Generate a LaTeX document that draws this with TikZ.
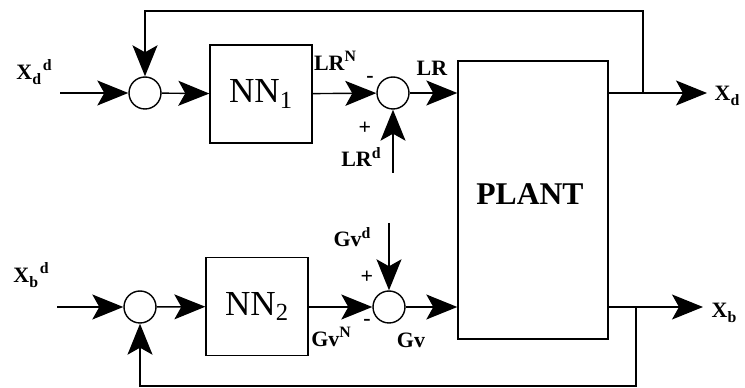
\documentclass[tikz,border=0pt]{standalone}
\usepackage{fontspec}
\setmainfont{Liberation Serif}
\usetikzlibrary{arrows.meta,positioning}

\newcommand{\lo}[1]{\raisebox{-0.5ex}{\fontsize{9}{10}\selectfont #1}}
\newcommand{\hi}[1]{\raisebox{0.85ex}{\fontsize{9}{10}\selectfont #1}}

\tikzset{
  sumnode/.style={draw,circle,minimum size=0.64cm,inner sep=0pt},
  block/.style={draw,minimum width=2.04cm,minimum height=1.96cm,
    font=\fontsize{20}{22}\selectfont},
  sig/.style={-{Stealth[length=0.62cm,width=0.5cm,inset=0.14cm]}},
  lbl/.style={font=\bfseries\fontsize{12.5}{14}\selectfont,inner sep=0pt},
}

\begin{document}
\begin{tikzpicture}[x=0.02cm,y=-0.02cm,line width=0.8pt]
\useasboundingbox (0,0) rectangle (745,388);
% top loop
\coordinate (xdin) at (60,93);
\node[sumnode] (s1) at (145,93) {};
\node[block] (nn1) at (261,94) {NN\textsubscript{1}};
\node[sumnode] (s2) at (393,93) {};
\coordinate (lrdin) at (393,173);
% plant
\node[draw,minimum width=3cm,minimum height=5.56cm] (plant) at (533,200) {};
\node[font=\bfseries\fontsize{18}{20}\selectfont] (plantname) at (530,194) {PLANT};
\coordinate (brd) at (643,93);
\coordinate (topfb) at (643,11);
\coordinate (xdout) at (707,93);
% bottom loop
\coordinate (xbin) at (57,307);
\node[sumnode] (s3) at (140,307) {};
\node[block] (nn2) at (257,306.5) {NN\textsubscript{2}};
\node[sumnode] (s4) at (389,307) {};
\coordinate (gvdin) at (389,223);
\coordinate (brb) at (636,307);
\coordinate (botfb) at (636,386);
\coordinate (xbout) at (703,307);

\draw[sig] (xdin) -- (s1);
\draw[sig] (s1) -- (nn1);
\draw[sig] (nn1) -- (s2);
\draw[sig] (s2) -- (s2 -| plant.west);
\draw[sig] (lrdin) -- (s2);
\draw[sig] (s2 -| plant.east) -- (xdout);
\draw[sig] (brd) -- (topfb) -| (s1);

\draw[sig] (xbin) -- (s3);
\draw[sig] (s3) -- (nn2);
\draw[sig] (nn2.east |- s4) -- (s4);
\draw[sig] (s4) -- (s4 -| plant.west);
\draw[sig] (gvdin) -- (s4);
\draw[sig] (s4 -| plant.east) -- (xbout);
\draw[sig] (brb) -- (botfb) -| (s3);

% labels
\node[lbl] (xddlbl) at (34,72) {X\lo{d}\kern1pt\hi{d}};
\node[lbl] (lrnlbl) at (335,61) {LR\hi{N}};
\node[lbl] (m1) at (370,79) {-};
\node[lbl] (lrlbl) at (432,68) {LR};
\node[lbl] (p1) at (365,128) {+};
\node[lbl] (lrdlbl) at (361,157) {LR\hi{d}};
\node[lbl] (xdlbl) at (727,96) {X\lo{d}};
\node[lbl] (xbdlbl) at (31,275) {X\lo{b}\kern1pt\hi{d}};
\node[lbl] (gvdlbl) at (352,237) {Gv\hi{d}};
\node[lbl] (p2) at (367,277) {+};
\node[lbl] (m2) at (367,322) {-};
\node[lbl] (gvnlbl) at (331,337) {Gv\hi{N}};
\node[lbl] (gvlbl) at (411,340) {Gv};
\node[lbl] (xblbl) at (724,313) {X\lo{b}};
\end{tikzpicture}
\end{document}
